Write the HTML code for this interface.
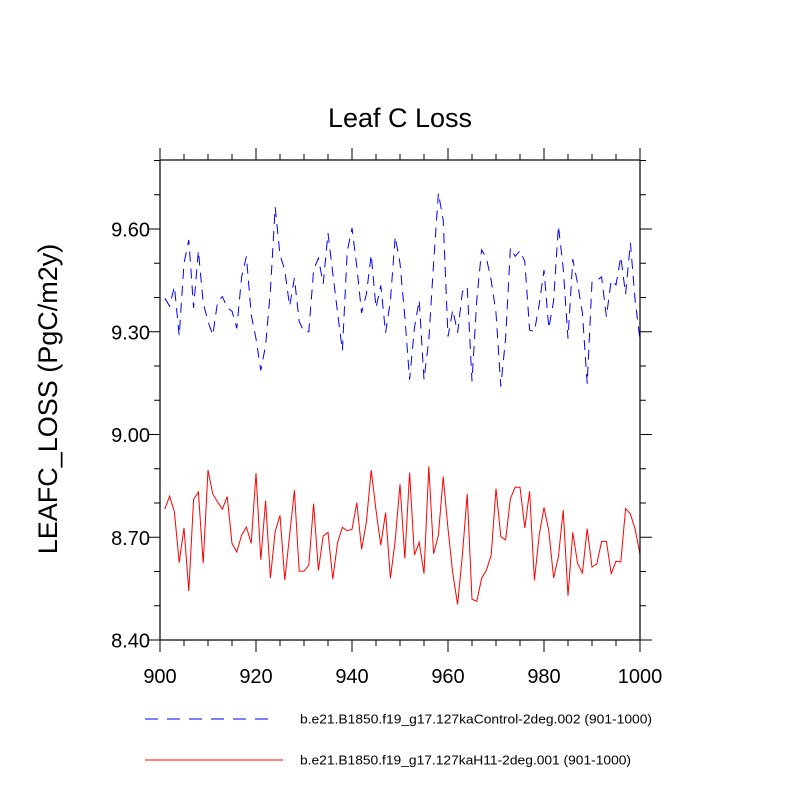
<!DOCTYPE html>
<html><head><meta charset="utf-8"><style>
body{margin:0;background:#fff}
svg{display:block;font-family:"Liberation Sans",sans-serif}
</style></head><body>
<svg id="chart" width="800" height="800" viewBox="0 0 800 800" xmlns="http://www.w3.org/2000/svg">
<rect x="0" y="0" width="800" height="800" fill="#fff"/>
<text x="400" y="127" font-size="27" text-anchor="middle">Leaf C Loss</text>
<text transform="translate(57,399) rotate(-90)" font-size="27" text-anchor="middle">LEAFC_LOSS  (PgC/m2y)</text>
<g id="plot"></g>
<g>
<line x1="145" y1="719" x2="277" y2="719" stroke="#0000ff" stroke-width="1" stroke-dasharray="13,9"/>
<text x="300" y="723.5" font-size="13" textLength="352" lengthAdjust="spacingAndGlyphs">b.e21.B1850.f19_g17.127kaControl-2deg.002 (901-1000)</text>
<line x1="145" y1="760" x2="283" y2="760" stroke="#ff0000" stroke-width="1"/>
<text x="300" y="764.5" font-size="13" textLength="331" lengthAdjust="spacingAndGlyphs">b.e21.B1850.f19_g17.127kaH11-2deg.001 (901-1000)</text>
</g>
</svg>
<script>
const years = Array.from({length:100},(_, i)=>901+i);
const controlValues = [9.398,9.375,9.432,9.288,9.50,9.568,9.37,9.537,9.384,9.33,
9.29,9.388,9.403,9.37,9.36,9.31,9.46,9.52,9.35,9.28,
9.187,9.26,9.42,9.664,9.524,9.48,9.375,9.457,9.33,9.30,
9.30,9.48,9.515,9.44,9.588,9.47,9.355,9.245,9.534,9.603,
9.49,9.355,9.41,9.525,9.37,9.435,9.297,9.39,9.578,9.50,
9.345,9.16,9.31,9.393,9.16,9.276,9.50,9.705,9.626,9.286,
9.364,9.297,9.417,9.432,9.155,9.393,9.539,9.515,9.45,9.355,
9.14,9.28,9.545,9.52,9.537,9.505,9.305,9.30,9.38,9.48,
9.31,9.39,9.609,9.486,9.28,9.512,9.44,9.355,9.148,9.446,
9.45,9.46,9.344,9.45,9.437,9.519,9.41,9.56,9.39,9.276];
const h11Values = [8.782,8.820,8.774,8.626,8.727,8.543,8.811,8.832,8.624,8.896,
8.826,8.803,8.782,8.819,8.682,8.657,8.706,8.730,8.682,8.887,
8.634,8.807,8.581,8.717,8.764,8.575,8.706,8.837,8.601,8.601,
8.618,8.798,8.603,8.704,8.714,8.578,8.685,8.729,8.719,8.723,
8.801,8.665,8.745,8.896,8.779,8.677,8.772,8.580,8.69,8.855,
8.638,8.889,8.648,8.685,8.594,8.907,8.652,8.706,8.877,8.725,
8.594,8.504,8.648,8.826,8.519,8.513,8.580,8.604,8.648,8.842,
8.702,8.692,8.813,8.846,8.846,8.727,8.834,8.574,8.706,8.787,
8.719,8.581,8.643,8.779,8.529,8.714,8.623,8.596,8.725,8.613,
8.622,8.688,8.688,8.594,8.630,8.628,8.784,8.768,8.723,8.650];
const yTickValues = [8.40,8.70,9.00,9.30,9.60];
const yTickLabels = ["8.40","8.70","9.00","9.30","9.60"];
const xTickValues = [900,920,940,960,980,1000];
const xTickLabels = ["900","920","940","960","980","1000"];

const NS="http://www.w3.org/2000/svg";
const L=160,R=640,T=160,B=640;
const xMin=900,xMax=1000,yMin=8.40,yMax=9.60+0.30*(229-160)/102.75;
function xs(v){return L+(v-xMin)/(xMax-xMin)*(R-L);}
function ys(v){return B-(v-yMin)/(yMax-yMin)*(B-T);}
const g=document.getElementById('plot');
function mk(tag,attrs){const e=document.createElementNS(NS,tag);for(const k in attrs)e.setAttribute(k,attrs[k]);g.appendChild(e);return e;}

function poly(vals,color,dash,name){
  const pts=vals.map((v,i)=>xs(years[i]).toFixed(2)+','+ys(v).toFixed(2)).join(' ');
  const p=mk('polyline',{points:pts,fill:'none',stroke:color,'stroke-width':1});
  if(dash)p.setAttribute('stroke-dasharray',dash);
  
  
}
poly(controlValues,'#0000ff','10,7','series-control');
poly(h11Values,'#ff0000',null,'series-h11');

const frame=mk('rect',{x:L,y:T,width:R-L,height:B-T,fill:'none',stroke:'#000','stroke-width':1.2});



for(let v=8.40;v<=yMax+1e-6;v+=0.10){
  const y=ys(v);
  const major=yTickValues.some(t=>Math.abs(t-v)<1e-6);
  const len=major?12:6;
  const a=mk('line',{x1:L,y1:y,x2:L-len,y2:y,stroke:'#000','stroke-width':1});
  
  
  const b=mk('line',{x1:R,y1:y,x2:R+len,y2:y,stroke:'#000','stroke-width':1});
  
  
}
yTickValues.forEach((v,i)=>{
  const t=mk('text',{x:L-10,y:ys(v)+7.5,'font-size':20,'text-anchor':'end'});
  t.textContent=yTickLabels[i];
  
  
});
for(let v=900;v<=1000;v+=5){
  const x=xs(v);
  const major=xTickValues.includes(v);
  const len=major?12:6;
  const a=mk('line',{x1:x,y1:B,x2:x,y2:B+len,stroke:'#000','stroke-width':1});
  
  
  const b=mk('line',{x1:x,y1:T,x2:x,y2:T-len,stroke:'#000','stroke-width':1});
  
  
}
xTickValues.forEach((v,i)=>{
  const t=mk('text',{x:xs(v),y:B+43,'font-size':20,'text-anchor':'middle'});
  t.textContent=xTickLabels[i];
  
  
});
</script>
</body></html>
